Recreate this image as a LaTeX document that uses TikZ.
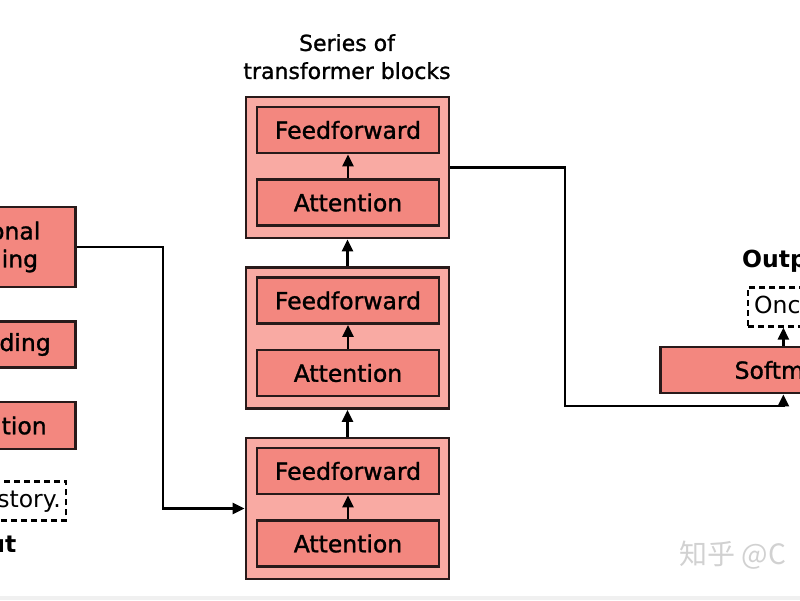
\documentclass[tikz,border=0pt]{standalone}
\usepackage{fontspec}
\setmainfont{DejaVu Sans}
\newfontfamily\labelfont[FakeBold=1.2]{DejaVu Sans}
\newfontfamily\cjkfont{Noto Sans CJK SC}
\usetikzlibrary{arrows.meta}
\definecolor{blockpink}{RGB}{249,170,163}
\definecolor{layerpink}{RGB}{243,135,127}
\definecolor{edge}{RGB}{40,26,26}
\tikzset{
  outerbox/.style={draw=edge, line width=2.8pt, fill=blockpink, inner sep=0pt, minimum width=203pt, minimum height=141pt},
  layerbox/.style={draw=edge, line width=2.8pt, fill=layerpink, inner sep=0pt, minimum width=182pt, minimum height=46pt, font=\labelfont\fontsize{23.5}{28}\selectfont},
  stagebox/.style={layerbox, align=center},
  dashbox/.style={draw=black, line width=2.2pt, dash pattern=on 6pt off 4pt, inner xsep=5pt, inner ysep=0pt, minimum height=39pt, font=\fontsize{23.5}{28}\selectfont},
  headlabel/.style={inner sep=0pt, font=\bfseries\fontsize{23.5}{28}\selectfont},
  flow/.style={line width=2.5pt, -{Triangle[length=12pt,width=11pt]}}
}

\begin{document}
\begin{tikzpicture}[x=1pt,y=-1pt]
\useasboundingbox (0,0) rectangle (800,600);
\clip (0,0) rectangle (800,600);
\fill[black!6] (0,596) rectangle (800,600);
\node[anchor=north, align=center, inner sep=0pt, font=\labelfont\fontsize{22}{28}\selectfont] (title) at (347,34) {Series of\\transformer blocks};
\foreach \i/\t in {1/438,2/267.5,3/97}{
  \node[outerbox] (blk\i) at (347.5,\t+70.5) {};
  \node[layerbox] (ff\i) at (348,\t+33) {Feedforward};
  \node[layerbox] (att\i) at (348,\t+105.5) {Attention};
  \draw[flow] (att\i) -- (ff\i);
}
\draw[flow] (blk1) -- (blk2);
\draw[flow] (blk2) -- (blk3);

\node[stagebox, minimum width=183pt, minimum height=80pt, anchor=east] (pos) at (77,247) {Positional\\encoding};
\node[stagebox, minimum width=183pt, anchor=east] (emb) at (77,344.5) {Embedding};
\node[stagebox, minimum width=203pt, minimum height=47pt, anchor=east] (tok) at (77,425.5) {Tokenization};
\node[dashbox, anchor=east] (prompt) at (67,501) {Write a story.};
\node[headlabel, anchor=base east] (inlabel) at (16.5,552) {Input};
\coordinate (bend) at (163,247);
\draw[flow] (pos.east) -- (bend) |- (blk1.west);

\node[stagebox, minimum width=246pt, anchor=west] (soft) at (659,370) {Softmax};
\node[dashbox, inner xsep=6pt, anchor=west] (story) at (747,307) {Once upon a time...};
\node[headlabel, anchor=base west] (outlabel) at (742,267) {Output};
\coordinate (drop) at (565,406);
\draw[flow] (blk3.east) -| (drop) -| (soft.south);
\draw[flow] (soft.north) -- (soft.north |- story.south);

\node[anchor=west, text=black!18, font=\cjkfont\fontsize{28}{30}\selectfont] (mark) at (676,555) {知乎 @C};
\end{tikzpicture}
\end{document}
